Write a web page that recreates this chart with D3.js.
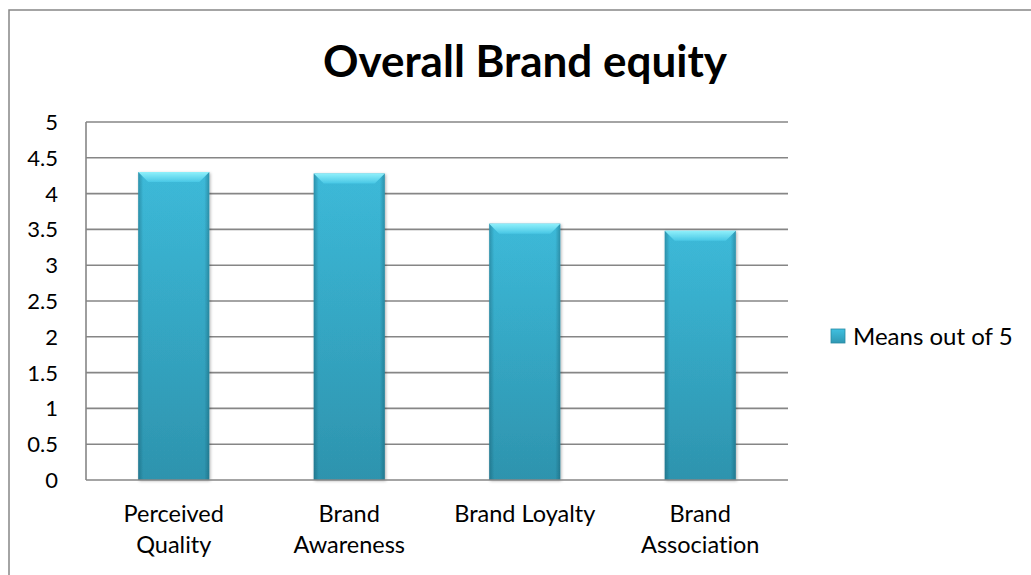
<!DOCTYPE html>
<html>
<head>
<meta charset="utf-8">
<script src="https://cdn.jsdelivr.net/npm/d3@7"></script>
<style>
  body { margin: 0; background: #fff; }
  svg { display: block; }
  text { font-variant-ligatures: none; }
</style>
</head>
<body>
<div id="vis"></div>
<script>
// Datos ------------------------------------------------------------------
const CATEGORIAS = ["Perceived Quality", "Brand Awareness", "Brand Loyalty", "Brand Association"];
const ETIQUETAS = [["Perceived", "Quality"], ["Brand", "Awareness"], ["Brand Loyalty"], ["Brand", "Association"]];
const VALORES = [4.3, 4.28, 3.58, 3.48];
const TICKS_Y = [0, 0.5, 1, 1.5, 2, 2.5, 3, 3.5, 4, 4.5, 5];
const SERIE = "Means out of 5";
const TITULO = "Overall Brand equity";

const WIDTH = 1031;
const HEIGHT = 575;
const FUENTE = "Lato, 'Open Sans', sans-serif";

const SVG = d3.select("#vis").append("svg")
    .attr("width", WIDTH)
    .attr("height", HEIGHT);

// marco del gráfico
SVG.append("rect")
    .attr("x", 9)
    .attr("y", 10)
    .attr("width", 1100)
    .attr("height", 700)
    .attr("fill", "white")
    .attr("stroke", "#868686")
    .attr("stroke-width", 1.5);

// Escalas
const x = d3.scaleBand()
    .domain(CATEGORIAS)
    .range([86, 788])
    .paddingInner(0.595)
    .paddingOuter(0.2975);

const y = d3.scaleLinear()
    .domain([0, 5])
    .range([480, 122]);

// Gradientes de las barras
const defs = SVG.append("defs");

const gradVertical = defs.append("linearGradient")
    .attr("id", "gradVertical")
    .attr("x1", 0).attr("y1", 0).attr("x2", 0).attr("y2", 1);
gradVertical.append("stop").attr("offset", "0%").attr("stop-color", "#3fc0e0");
gradVertical.append("stop").attr("offset", "100%").attr("stop-color", "#2f98b3");

const gradLados = defs.append("linearGradient")
    .attr("id", "gradLados")
    .attr("x1", 0).attr("y1", 0).attr("x2", 1).attr("y2", 0);
gradLados.append("stop").attr("offset", "0%").attr("stop-color", "#0a3a48").attr("stop-opacity", 0.35);
gradLados.append("stop").attr("offset", "7%").attr("stop-color", "#0a3a48").attr("stop-opacity", 0.05);
gradLados.append("stop").attr("offset", "93%").attr("stop-color", "#0a3a48").attr("stop-opacity", 0.05);
gradLados.append("stop").attr("offset", "100%").attr("stop-color", "#0a3a48").attr("stop-opacity", 0.35);

const gradBisel = defs.append("linearGradient")
    .attr("id", "gradBisel")
    .attr("x1", 0).attr("y1", 0).attr("x2", 0).attr("y2", 1);
gradBisel.append("stop").attr("offset", "0%").attr("stop-color", "#8ff0fb");
gradBisel.append("stop").attr("offset", "100%").attr("stop-color", "#48c7e5");

const sombra = defs.append("filter")
    .attr("id", "sombra")
    .attr("x", "-20%").attr("y", "-10%").attr("width", "140%").attr("height", "130%");
sombra.append("feDropShadow")
    .attr("dx", 1).attr("dy", 1).attr("stdDeviation", 1.5)
    .attr("flood-color", "#000").attr("flood-opacity", 0.3);

// Título
SVG.append("text")
    .attr("x", 525)
    .attr("y", 77)
    .attr("text-anchor", "middle")
    .attr("font-family", FUENTE)
    .attr("font-weight", "bold")
    .attr("font-size", "44px")
    .attr("fill", "black")
    .text(TITULO);

// Líneas de la grilla
SVG.append("g")
    .selectAll("line")
    .data(TICKS_Y.filter(d => d > 0))
    .enter()
    .append("line")
    .attr("x1", x.range()[0])
    .attr("x2", x.range()[1])
    .attr("y1", d => y(d))
    .attr("y2", d => y(d))
    .attr("stroke", "#868686")
    .attr("stroke-width", 1.6);

// Etiquetas del eje Y
SVG.append("g")
    .selectAll("text")
    .data(TICKS_Y)
    .enter()
    .append("text")
    .attr("x", 58)
    .attr("y", d => y(d))
    .attr("dy", "0.36em")
    .attr("text-anchor", "end")
    .attr("font-family", FUENTE)
    .attr("font-size", "22px")
    .attr("fill", "black")
    .text(d => d);

// Barras
const barras = SVG.append("g")
    .selectAll("g")
    .data(VALORES)
    .enter()
    .append("g")
    .attr("filter", "url(#sombra)");

barras.append("rect")
    .attr("x", (d, i) => x(CATEGORIAS[i]))
    .attr("y", d => y(d))
    .attr("width", x.bandwidth())
    .attr("height", d => y(0) - y(d))
    .attr("fill", "url(#gradVertical)");

barras.append("rect")
    .attr("x", (d, i) => x(CATEGORIAS[i]))
    .attr("y", d => y(d))
    .attr("width", x.bandwidth())
    .attr("height", d => y(0) - y(d))
    .attr("fill", "url(#gradLados)");

const bisel = 10;
barras.append("polygon")
    .attr("points", (d, i) => {
        const x0 = x(CATEGORIAS[i]);
        const x1 = x0 + x.bandwidth();
        const y0 = y(d);
        return [[x0, y0], [x1, y0], [x1 - bisel, y0 + bisel], [x0 + bisel, y0 + bisel]].join(" ");
    })
    .attr("fill", "url(#gradBisel)");

// Ejes izquierdo e inferior
SVG.append("line")
    .attr("x1", x.range()[0]).attr("x2", x.range()[0])
    .attr("y1", y(5)).attr("y2", y(0))
    .attr("stroke", "#868686").attr("stroke-width", 1.6);

SVG.append("line")
    .attr("x1", x.range()[0]).attr("x2", x.range()[1])
    .attr("y1", y(0)).attr("y2", y(0))
    .attr("stroke", "#868686").attr("stroke-width", 1.6);

// Etiquetas de categorías
const etiquetas = SVG.append("g")
    .selectAll("text")
    .data(CATEGORIAS)
    .enter()
    .append("text")
    .attr("x", d => x(d) + x.bandwidth() / 2)
    .attr("y", 522)
    .attr("text-anchor", "middle")
    .attr("font-family", FUENTE)
    .attr("font-size", "23.5px")
    .attr("fill", "black");

etiquetas.selectAll("tspan")
    .data((d, i) => ETIQUETAS[i].map(t => ({ t, cx: x(d) + x.bandwidth() / 2 })))
    .enter()
    .append("tspan")
    .attr("x", d => d.cx)
    .attr("dy", (d, j) => j === 0 ? 0 : 31)
    .text(d => d.t);

// Leyenda
SVG.append("rect")
    .attr("x", 831)
    .attr("y", 329)
    .attr("width", 14)
    .attr("height", 14)
    .attr("fill", "url(#gradVertical)")
    .attr("stroke", "#2a8aa3")
    .attr("stroke-width", 0.8);

SVG.append("text")
    .attr("x", 853)
    .attr("y", y(2))
    .attr("dy", "0.36em")
    .attr("font-family", FUENTE)
    .attr("font-size", "24px")
    .attr("fill", "black")
    .text(SERIE);
</script>
</body>
</html>
